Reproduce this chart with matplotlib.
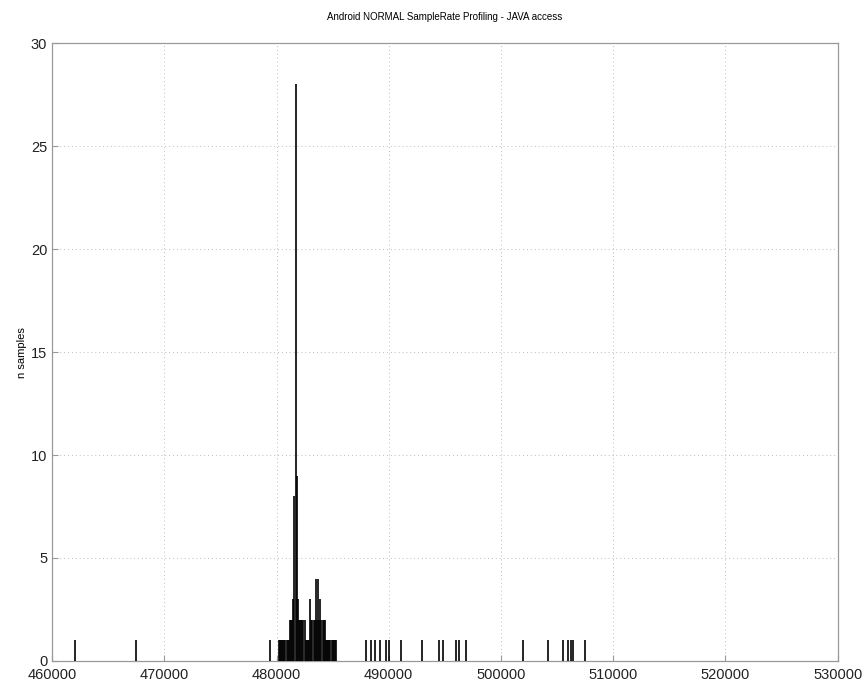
import matplotlib.pyplot as plt

# sample-rate values (Hz) and how many samples landed on each
rates = [
    462000, 467500, 479400,
    480200, 480300, 480400, 480500, 480600, 480700, 480800, 480900, 481000, 481100,
    481200, 481300, 481400, 481500, 481600, 481700, 481800, 481900,
    482000, 482100, 482200, 482300, 482400, 482500,
    482600, 482700, 482800, 482900,
    483000, 483100, 483200, 483300, 483400, 483500, 483600, 483700, 483800, 483900,
    484000, 484100, 484200, 484300,
    484400, 484500, 484600, 484700, 484800, 484900, 485000, 485100, 485200, 485300,
    488000, 488400, 488800, 489200, 489800, 490000, 491100, 493000, 494500, 494800,
    496000, 496300, 496900, 502000, 504200, 505500, 506000, 506200, 506400, 507500,
]
counts = [
    1, 1, 1,
    1, 1, 1, 1, 1, 1, 1, 1, 1, 1,
    2, 2, 2, 3, 8, 28, 9, 3,
    2, 2, 2, 2, 2, 2,
    1, 1, 1, 1,
    3, 2, 2, 2, 2, 4, 2, 4, 2, 3,
    2, 2, 2, 2,
    1, 1, 1, 1, 1, 1, 1, 1, 1, 1,
    1, 1, 1, 1, 1, 1, 1, 1, 1, 1,
    1, 1, 1, 1, 1, 1, 1, 1, 1, 1,
]

x_ticks = [460000, 470000, 480000, 490000, 500000, 510000, 520000, 530000]
y_ticks = [0, 5, 10, 15, 20, 25, 30]

plt.rcParams['font.family'] = ['Liberation Sans', 'DejaVu Sans']

fig = plt.figure(figsize=(8.68, 6.87), dpi=100)
ax = fig.add_axes([0.06, 0.038, 0.905, 0.899])

ax.vlines(rates, 0, counts, color="black", linewidth=1.2, zorder=3)

ax.set_xlim(460000, 530000)
ax.set_ylim(0, 30)
ax.set_xticks(x_ticks)
ax.set_xticklabels([str(v) for v in x_ticks])
ax.set_yticks(y_ticks)
ax.tick_params(direction="in", length=4, labelsize=10.5, colors="#222222",
               color="#999999")
ax.tick_params(axis="x", pad=5)
ax.grid(True, color="#bbbbbb", linestyle=(0, (1, 3)), linewidth=0.7)
for spine in ax.spines.values():
    spine.set_edgecolor("#999999")
    spine.set_linewidth(0.9)

ax.set_title("Android NORMAL SampleRate Profiling - JAVA access", fontsize=7, pad=17)
ax.set_ylabel("n samples", fontsize=8, labelpad=3)

fig.savefig("out.png", dpi=100)
